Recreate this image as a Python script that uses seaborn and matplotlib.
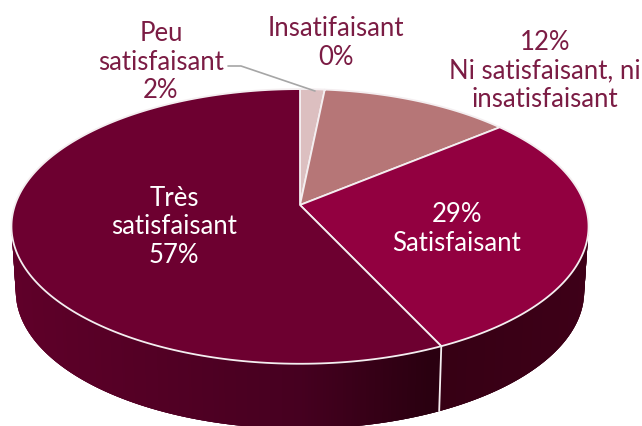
import numpy as np
import matplotlib
matplotlib.use("Agg")
import matplotlib.pyplot as plt
from matplotlib.colors import to_rgb
import seaborn as sns

categories = ["Insatifaisant", "Peu satisfaisant", "Ni satisfaisant, ni insatisfaisant",
              "Satisfaisant", "Très satisfaisant"]
values = [0.0, 1.6, 12.4, 29.0, 57.0]
colors = ["#e6d0d0", "#dcbfc0", "#b67677", "#920040", "#6d0030"]

sns.set_theme(style="white")
plt.rcParams["font.family"] = ["Lato", "DejaVu Sans"]

W, H = 642, 427
fig = plt.figure(figsize=(W / 100, H / 100), dpi=100)
ax = fig.add_axes([0, 0, 1, 1])
ax.set_xlim(0, W)
ax.set_ylim(H, 0)
ax.axis("off")

# perspective projection of the unit disc
CX, CY, A, B, K = 300.0, 206.0, 285.0, 134.0, 0.156
DEPTH = 65.0


def project(theta, scale=1.0, drop=0.0):
    u, v = np.sin(theta), np.cos(theta)
    w = 1 + K * v
    return CX + scale * A * u / w, CY - B * v / w + drop


cum = np.cumsum([0.0] + values) / 100 * 2 * np.pi

WHITE = "#f4eef0"


def mix(c1, c2, t):
    a, b = np.array(to_rgb(c1)), np.array(to_rgb(c2))
    return tuple(a + (b - a) * np.clip(t, 0, 1))


# side wall: overlapping strips, so no seams show between them
step = np.radians(0.5)
ths = np.arange(np.radians(60), np.radians(300), step)
for t0 in ths:
    t1 = t0 + 3 * step
    x0, y0 = project(t0)
    x1, y1 = project(t1)
    x2, y2 = project(t1, 0.985, DEPTH)
    x3, y3 = project(t0, 0.985, DEPTH)
    xm = x0
    if t0 < cum[4]:
        col = mix("#3e0018", "#360014", (590 - xm) / 150)
    elif xm > 300:
        col = mix("#460020", "#2a0010", (xm - 300) / 130)
    else:
        col = mix("#5f0029", "#460020", (xm - 15) / 285)
    ax.fill([x0, x1, x2, x3], [y0, y1, y2, y3], color=col, lw=0, zorder=1)

# vertical seam on the wall at the wedge boundary
bx0, by0 = project(cum[4])
bx1, by1 = project(cum[4], 0.985, DEPTH)
ax.plot([bx0, bx1], [by0, by1], color=WHITE, lw=1.3, zorder=2)

# top face
for i, (val, col) in enumerate(zip(values, colors)):
    if val <= 0:
        continue
    th = np.linspace(cum[i], cum[i + 1], 200)
    xs, ys = project(th)
    ax.fill(np.r_[CX, xs], np.r_[CY, ys], facecolor=col, edgecolor=WHITE,
            lw=1.3, joinstyle="round", zorder=3)

# leader line
ax.plot([228, 241, 315], [67, 67, 92], color="#a6a6a6", lw=1.2, zorder=4)

# labels
OUT = "#7b1c44"
labels = [
    ("Peu\nsatisfaisant\n2%", 161, 62, OUT),
    ("Insatifaisant\n0%", 336, 43, OUT),
    ("12%\nNi satisfaisant, ni\ninsatisfaisant", 545, 71, OUT),
    ("29%\nSatisfaisant", 457, 229, "white"),
    ("Très\nsatisfaisant\n57%", 174, 227, "white"),
]
for txt, x, y, c in labels:
    ax.text(x, y, txt, ha="center", va="center", color=c, fontsize=18.5,
            fontweight="normal", linespacing=1.17, zorder=5)

fig.savefig("out.png", dpi=100, facecolor="white")
